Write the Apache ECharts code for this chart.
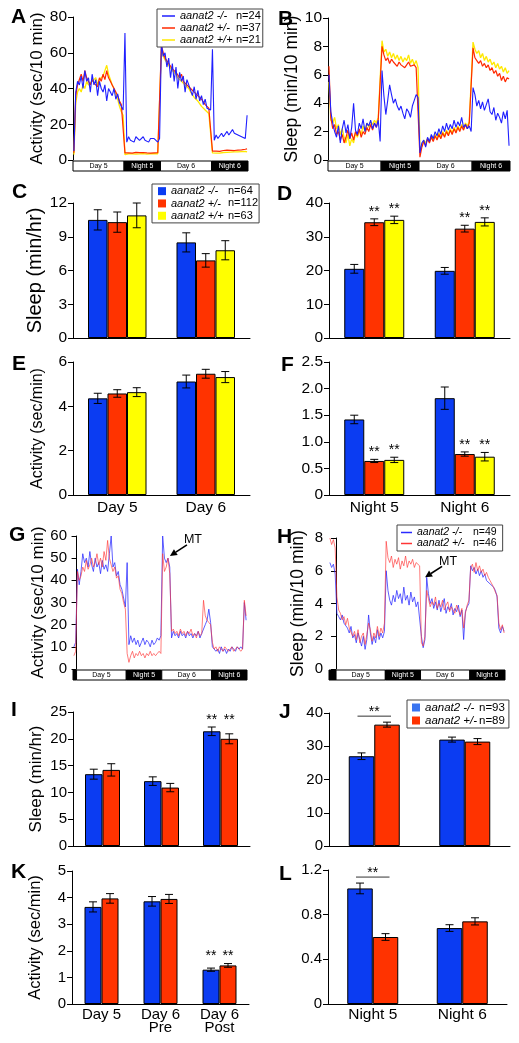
<!DOCTYPE html>
<html><head><meta charset="utf-8">
<script src="https://cdn.jsdelivr.net/npm/echarts@6/dist/echarts.min.js"></script>
<style>html,body{margin:0;padding:0;background:#fff}#c{width:519px;height:1043px}</style>
</head><body><div id="c"></div>
<script>
// ---------------- DATA ----------------
const BIN = 0.5; // hours per bin
const genoABC = ['aanat2 -/-', 'aanat2 +/-', 'aanat2 +/+'];
const nA = [24, 37, 21];
const nC = [64, 112, 63];
const nH = [49, 46];
const nJ = [93, 89];

// Panel A: activity (sec/10 min), Day 5 .. Night 6
const aKO = [5,38,44,42,47,40,50,44,46,38, 48,42,45,36,44,40,38,42,33,40, 38,36,40,34,37,32,30,28,
  71,10,13,11,12,10,13,12,11,12, 13,11,12,10,12,11,12,11,10,12,
  65,58,60,52,57,46,54,44,52,40, 49,44,47,38,45,42,43,36,41,34, 39,33,36,31,34,29,30,28,
  62,11,14,12,13,15,13,14,16,14, 15,17,15,16,14,15,13,14,12,25];
const aHet = [4,36,42,45,48,44,50,46,47,42, 45,43,44,41,46,44,48,45,50,46, 44,42,40,38,36,33,31,30,
  4,3.5,4,4.2,3.8,4,4.3,3.9,4.1,4, 4.2,3.8,4,4.1,3.9,4.2,4,3.8,4.1,4,
  64,60,57,58,54,55,51,52,49,50, 46,48,44,45,42,43,40,41,38,39, 36,35,34,33,31,30,29,28,
  5,4.5,5,5.2,4.8,5,5.3,5.1,5.5,5.2, 5.4,5.6,5.3,5.8,5.5,6,5.7,5.9,6,6.2];
const aWT = [3,32,38,40,38,42,40,44,42,41, 44,43,46,42,45,44,47,50,53,48, 45,42,40,37,34,30,27,25,
  3,3.2,3.5,3.3,3.4,3.6,3.3,3.5,3.4,3.2, 3.6,3.5,3.3,3.4,3.5,3.3,3.6,3.4,3.5,3.4,
  62,58,56,55,53,52,50,49,48,46, 45,44,43,42,41,40,38,37,35,34, 33,32,30,29,28,27,26,25,
  4,3.5,3.8,4,3.9,4.1,4.2,4,4.3,4.1, 4.4,4.2,4.5,4.3,4.6,4.4,4.7,4.5,4.8,4.6];

// Panel B: sleep (min/10 min)
const bKO = [6,3.4,2.6,2.0,1.6,2.4,1.2,2.2,2.8,1.9, 2.5,1.5,2.3,4.0,2.1,1.8,2.6,2.2,2.9,2.0, 2.6,2.4,2.8,2.2,2.6,2.3,2.8,1.3,
  6.3,4.5,3.2,4.2,5.3,4.6,4.0,4.3,3.8,3.5, 3.8,3.3,2.9,3.6,3.4,3.0,3.8,4.2,4.6,4.4,
  0.5,1.2,1.4,0.9,1.6,1.3,1.8,1.5,2.0,1.7, 2.2,1.8,2.4,2.0,2.6,2.1,2.5,2.2,2.8,2.3, 2.7,2.4,3.0,2.3,2.5,2.2,2.4,2.0,
  5.1,4.6,3.8,4.2,3.6,4.1,3.5,3.9,4.3,3.4, 3.2,3.7,2.8,3.3,3.0,2.6,3.4,2.9,3.5,1.0];
const bHet = [6.6,3.0,2.2,2.5,1.8,2.0,1.4,1.8,1.2,1.6, 2.1,1.5,1.9,1.4,2.0,1.7,2.2,1.6,2.0,1.8, 2.3,2.0,2.5,2.1,2.6,2.3,2.8,2.7,
  8.0,7.4,7.0,7.2,6.8,7.1,6.9,7.0,6.6,6.9, 6.7,6.8,6.5,6.7,6.9,6.6,6.5,6.7,6.5,6.4,
  0.2,0.9,1.3,1.0,1.5,1.2,1.6,1.3,1.7,1.4, 1.8,1.5,1.9,1.6,2.0,1.7,2.1,1.8,2.2,1.9, 2.3,2.0,2.4,2.1,2.5,2.2,2.6,2.7,
  7.9,7.2,7.0,6.8,7.0,6.6,6.8,6.5,6.7,6.3, 6.5,6.1,6.3,5.9,6.1,5.6,5.9,5.5,5.8,5.7];
const bWT = [5.5,2.8,2.6,3.0,2.2,2.5,1.8,2.2,1.6,1.2, 1.8,1.0,1.5,1.2,1.9,1.6,2.1,1.8,2.4,2.0, 2.6,2.3,2.7,2.5,2.8,2.6,3.0,2.9,
  8.4,7.6,7.8,7.3,7.6,7.2,7.5,7.1,7.4,7.0, 7.3,6.9,7.2,7.0,7.4,6.8,7.1,6.7,7.0,6.5,
  0.8,1.0,1.4,1.2,1.5,1.3,1.7,1.4,1.8,1.5, 1.9,1.6,2.0,1.7,2.1,1.8,2.2,1.9,2.3,2.0, 2.4,2.1,2.5,2.2,2.6,2.4,2.7,2.8,
  8.3,7.8,7.5,7.7,7.2,7.5,7.0,7.3,6.9,7.1, 6.7,6.9,6.5,6.8,6.4,6.6,6.2,6.5,6.1,6.3];

// Panel G: activity with melatonin (MT), starts 1 h before Day 5
const gKO = [10,12,
  45,38,44,52,48,50,46,53,47,44, 50,46,48,43,49,45,47,44,52,60, 46,48,42,44,38,36,32,28,
  48,11,15,12,14,11,13,10,12,14, 11,13,12,10,13,11,12,14,13,15,
  60,50,48,50,46,14,17,15,16,14, 17,15,16,14,17,15,16,14,16,15, 17,14,16,16,20,22,27,21,
  10,9,8,9,7,10,8,9,7,9, 8,10,9,8,10,9,10,9,30,22];
const gHet = [6,8,
  44,40,42,46,44,49,45,47,50,46, 48,52,47,50,46,53,49,58,50,47, 44,46,41,42,36,34,30,27,
  7,3,6,8,5,7,6,8,6,7, 5,7,6,8,6,7,6,7,8,7,
  52,44,46,50,43,17,18,16,17,15, 18,16,17,15,17,16,18,15,16,14, 17,15,16,31,24,22,21,20,
  12,9,10,8,10,9,8,10,9,8, 9,10,8,9,10,9,8,9,31,24];

// Panel H: sleep with MT, starts 2 h before Day 5
const hKO = [6.5,6.2,6.4,5.8,
  3.4,3.2,3.0,3.3,2.8,2.9,2.5,2.2,2.6,1.9, 2.1,1.6,2.2,1.8,1.4,2.0,1.2,1.8,3.3,2.2, 1.5,2.0,1.6,2.4,1.8,2.2,1.9,2.3,
  6.0,4.8,4.2,3.9,4.5,4.1,4.8,4.3,4.6,4.0, 5.0,4.2,4.5,3.9,4.7,4.1,4.4,3.8,4.1,4.0,
  2.0,1.3,1.8,5.6,4.6,4.0,4.3,3.7,4.1,3.6, 4.2,3.5,3.9,4.3,3.4,3.8,3.6,4.0,3.3,3.7, 3.5,3.9,3.2,3.6,1.8,3.5,3.8,4.0,
  6.3,6.0,6.2,5.8,6.1,5.7,6.0,5.6,5.8,5.4, 5.5,5.2,5.3,5.0,4.8,4.4,2.5,2.2,2.6,2.3];
const hHet = [8.0,7.6,7.9,7.4,
  4.4,3.6,3.4,3.0,3.2,2.7,3.1,2.5,2.6,2.0, 2.3,1.8,2.4,1.6,2.0,2.2,1.5,2.1,2.8,2.4, 1.7,2.2,1.9,2.6,2.0,2.5,2.2,2.8,
  7.8,6.8,6.5,6.9,6.2,6.7,6.4,6.8,6.1,6.6, 6.3,6.9,6.2,6.6,6.4,6.7,6.2,6.5,6.6,6.3,
  1.6,1.4,2.0,4.8,4.3,3.8,4.1,3.9,4.4,3.7, 4.0,3.8,4.2,3.6,3.9,4.1,3.5,3.8,3.7,3.4, 3.9,3.6,3.3,3.7,2.5,3.4,3.9,4.2,
  6.2,6.4,5.9,6.5,6.0,6.3,5.9,6.1,5.7,5.9, 5.6,5.4,5.2,5.0,4.7,4.5,2.8,2.4,2.7,2.2];

// light/dark strips: [label, startHour, endHour, isNight]
const segAB = [['Day 5',0,14,0],['Night 5',14,24,1],['Day 6',24,38,0],['Night 6',38,48,1]];
const segG = [['',-1,0,1],['Day 5',0,14,0],['Night 5',14,24,1],['Day 6',24,38,0],['Night 6',38,48,1]];
const segH = [['',-2,0,1],['Day 5',0,14,0],['Night 5',14,24,1],['Day 6',24,38,0],['Night 6',38,48,1]];
const mtG = [26.3, 51];   // melatonin arrow target (hour, value)
const mtH = [25.3, 5.6];

// Bar panels
const dayCats = ['Day 5', 'Day 6'];
const nightCats = ['Night 5', 'Night 6'];
const mtCats = ['Day 5', 'Day 6\nPre', 'Day 6\nPost'];

const cKO = [10.5, 8.5],  cKOe = [0.9, 0.85];
const cHet = [10.3, 6.9], cHete = [0.9, 0.6];
const cWT = [10.9, 7.8],  cWTe = [1.1, 0.85];

const dKO = [20.5, 19.9], dKOe = [1.3, 1.0];
const dHet = [34.3, 32.4], dHete = [1.0, 1.0], dHetSig = [1, 1];
const dWT = [35.0, 34.4], dWTe = [1.1, 1.2], dWTSig = [1, 1];

const eKO = [4.36, 5.12], eKOe = [0.23, 0.29];
const eHet = [4.58, 5.47], eHete = [0.17, 0.2];
const eWT = [4.64, 5.32], eWTe = [0.2, 0.25];

const fKO = [1.42, 1.82], fKOe = [0.08, 0.21];
const fHet = [0.64, 0.77], fHete = [0.03, 0.04], fHetSig = [1, 1];
const fWT = [0.66, 0.72], fWTe = [0.05, 0.08], fWTSig = [1, 1];

const iKO = [13.4, 12.1, 21.4], iKOe = [0.93, 0.8, 0.8], iKOSig = [0, 0, 1];
const iHet = [14.2, 10.9, 20.0], iHete = [1.15, 0.78, 0.93], iHetSig = [0, 0, 1];

const jKO = [27.0, 32.0], jKOe = [1.0, 0.75];
const jHet = [36.5, 31.4], jHete = [0.75, 0.9];
const jBracket = [1, 0];

const kKO = [3.65, 3.86, 1.29], kKOe = [0.19, 0.18, 0.06], kKOSig = [0, 0, 1];
const kHet = [3.97, 3.95, 1.45], kHete = [0.18, 0.17, 0.07], kHetSig = [0, 0, 1];

const lKO = [1.035, 0.68], lKOe = [0.048, 0.03];
const lHet = [0.60, 0.74], lHete = [0.03, 0.032];
const lBracket = [1, 0];

// ---------------- STYLE / BUILD ----------------
const FONT = '"Liberation Sans", Arial, Helvetica, sans-serif';
const BAR_BLUE = '#0b3cf2', BAR_RED = '#ff3300', BAR_YEL = '#ffff00';
const LN_BLUE = '#1f1fff', LN_RED = '#ff2a00', LN_YEL = '#ffe800';
const G_BLUE = '#2a2aff', G_RED = '#ff3535';

const grid = [], xAxis = [], yAxis = [], series = [], legend = [], graphic = [];
const intFmt = v => String(v);
const decFmt = v => v === 0 ? '0' : v.toFixed(1);

function yAx(gi, o) {
  return {
    type: 'value', gridIndex: gi, min: o.min, max: o.max, interval: o.int,
    name: o.name || '', nameLocation: 'middle', nameGap: o.nameGap || 0,
    nameTextStyle: {fontFamily: FONT, fontSize: o.nameSize || 17, color: '#000'},
    axisLine: {show: true, lineStyle: {color: '#000', width: 1}},
    axisTick: {show: true, length: 5, lineStyle: {color: '#000', width: 1}},
    axisLabel: {color: '#000', fontFamily: FONT, fontSize: o.tickSize || 15.5, margin: 6, formatter: o.fmt || intFmt},
    splitLine: {show: false}
  };
}
function addGrid(r) {
  grid.push({left: r[0], top: r[1], width: r[2], height: r[3], containLabel: false, outerBoundsMode: 'none'});
  return grid.length - 1;
}

function stripSeries(gi, segs) {
  return {
    type: 'custom', xAxisIndex: gi, yAxisIndex: gi, clip: false, silent: true, z: 3, animation: false,
    data: segs.map(s => [s[1], s[2], s[3]]),
    renderItem(params, api) {
      const s = segs[params.dataIndex];
      const p0 = api.coord([api.value(0), 0]);
      const p1 = api.coord([api.value(1), 0]);
      const y = p0[1] + 1, h = 10;
      return {type: 'group', children: [
        {type: 'rect', shape: {x: p0[0], y: y, width: p1[0] - p0[0], height: h},
          style: {fill: s[3] ? '#000' : '#fff', stroke: '#000', lineWidth: 1}},
        {type: 'text', style: {text: s[0], x: (p0[0] + p1[0]) / 2, y: y + h / 2 + 0.5, align: 'center',
          verticalAlign: 'middle', fontSize: 7, fontFamily: FONT, fill: s[3] ? '#fff' : '#000'}}
      ]};
    }
  };
}

function linePanel(r, x0, x1, ycfg, segs, lines) {
  const gi = addGrid(r);
  xAxis.push({type: 'value', gridIndex: gi, min: x0, max: x1, show: false});
  yAxis.push(yAx(gi, ycfg));
  lines.forEach(l => series.push({
    type: 'line', name: l.name, xAxisIndex: gi, yAxisIndex: gi, symbol: 'none', animation: false,
    data: l.vals.map((v, i) => [x0 + (i + 0.5) * BIN, v]),
    itemStyle: {color: l.color}, lineStyle: {color: l.color, width: l.width || 1, opacity: l.opacity == null ? 1 : l.opacity},
    z: 2
  }));
  series.push(stripSeries(gi, segs));
  return gi;
}

function barPanel(o) {
  const gi = addGrid(o.rect);
  xAxis.push({type: 'category', gridIndex: gi, data: o.cats,
    axisLine: {show: true, lineStyle: {color: '#000', width: 1}}, axisTick: {show: false},
    axisLabel: {show: !!o.showLabels, interval: 0, color: '#000', fontFamily: FONT, fontSize: o.labelSize || 15.5,
      lineHeight: o.labelLH || 15, margin: o.labelMargin || 5}});
  yAxis.push(yAx(gi, o.y));
  const n = o.bars.length;
  o.bars.forEach(b => series.push({
    type: 'bar', name: b.name, xAxisIndex: gi, yAxisIndex: gi, data: b.vals, barWidth: o.barW, barGap: '0%',
    itemStyle: {color: b.color, borderColor: '#000', borderWidth: 1}, animation: false, z: 2
  }));
  const items = [];
  o.cats.forEach((c, i) => o.bars.forEach((b, k) => items.push([i, k])));
  series.push({
    type: 'custom', xAxisIndex: gi, yAxisIndex: gi, clip: false, silent: true, z: 4, animation: false,
    data: items,
    renderItem(params, api) {
      const i = api.value(0), k = api.value(1);
      const b = o.bars[k];
      const base = api.coord([i, 0]);
      const cx = base[0] + (k - (n - 1) / 2) * o.barW;
      const v = b.vals[i], e = b.errs[i];
      const yT = api.coord([i, v + e])[1], yB = api.coord([i, v - e])[1];
      const cap = o.cap || 4;
      const st = {stroke: '#000', lineWidth: 1};
      const ch = [
        {type: 'line', shape: {x1: cx, y1: yT, x2: cx, y2: yB}, style: st},
        {type: 'line', shape: {x1: cx - cap, y1: yT, x2: cx + cap, y2: yT}, style: st},
        {type: 'line', shape: {x1: cx - cap, y1: yB, x2: cx + cap, y2: yB}, style: st}
      ];
      const groupTop = Math.max(...o.bars.map(bb => bb.vals[i] + bb.errs[i]));
      if (b.sig && b.sig[i]) {
        const topVal = o.alignStars ? groupTop : v + e;
        const ys = api.coord([i, topVal])[1] - (o.starGap || 10);
        ch.push({type: 'text', style: {text: '**', x: cx, y: ys + 3, align: 'center', verticalAlign: 'middle',
          fontSize: 14, fontFamily: FONT, fill: '#000'}});
      }
      if (k === 0 && o.bracket && o.bracket[i]) {
        const yl = api.coord([i, groupTop])[1] - 6;
        const x1 = cx - 4, x2 = cx + (n - 1) * o.barW + 4;
        ch.push({type: 'line', shape: {x1: x1, y1: yl, x2: x2, y2: yl}, style: {stroke: '#333', lineWidth: 1}});
        ch.push({type: 'text', style: {text: '**', x: (x1 + x2) / 2, y: yl - 7 + 3, align: 'center', verticalAlign: 'middle',
          fontSize: 14, fontFamily: FONT, fill: '#000'}});
      }
      return {type: 'group', children: ch};
    }
  });
  return gi;
}

function mtSeries(gi, pt) {
  return {
    type: 'custom', xAxisIndex: gi, yAxisIndex: gi, clip: false, silent: true, z: 6, animation: false,
    data: [pt],
    renderItem(params, api) {
      const p = api.coord([api.value(0), api.value(1)]);
      const tip = [p[0], p[1]], tail = [p[0] + 17, p[1] - 11];
      const ang = Math.atan2(tip[1] - tail[1], tip[0] - tail[0]);
      const L = 7, W = 3.5;
      const bx = tip[0] - L * Math.cos(ang), by = tip[1] - L * Math.sin(ang);
      const px = -Math.sin(ang) * W, py = Math.cos(ang) * W;
      return {type: 'group', children: [
        {type: 'line', shape: {x1: tail[0], y1: tail[1], x2: bx, y2: by}, style: {stroke: '#000', lineWidth: 1.6}},
        {type: 'polygon', shape: {points: [tip, [bx + px, by + py], [bx - px, by - py]]}, style: {fill: '#000'}},
        {type: 'text', style: {text: 'MT', x: p[0] + 23, y: p[1] - 16, align: 'center', verticalAlign: 'middle',
          fontSize: 12.5, fontFamily: FONT, fill: '#000'}}
      ]};
    }
  };
}

function mkLegend(o) {
  legend.push({
    show: true, orient: 'vertical', left: o.left, top: o.top, padding: o.pad, itemGap: 0,
    itemWidth: o.iw, itemHeight: o.ih, icon: 'rect', selectedMode: false,
    borderColor: '#444', borderWidth: 1, backgroundColor: '#fff', z: 10,
    data: o.names.map((nm, idx) => ({name: nm, itemStyle: {color: o.colors[idx], borderWidth: 0}})),
    formatter: nm => { const idx = o.names.indexOf(nm); return '{g|' + o.labels[idx] + '}{n|n=' + o.ns[idx] + '}'; },
    textStyle: {color: '#000', fontFamily: FONT, fontSize: o.fs, lineHeight: o.lh,
      rich: {g: {fontStyle: 'italic', fontFamily: FONT, fontSize: o.fs, width: o.gw, lineHeight: o.lh, color: '#000'},
             n: {fontFamily: FONT, fontSize: o.fs, lineHeight: o.lh, color: '#000'}}}
  });
}

// ---- A
const namesA = genoABC.map(g => 'A ' + g);
const giA = linePanel([73, 17, 175, 143], 0, 48,
  {min: 0, max: 80, int: 20, name: 'Activity (sec/10 min)', nameSize: 17, nameGap: 25},
  segAB, [
    {name: namesA[2], vals: aWT, color: LN_YEL, width: 1.3},
    {name: namesA[1], vals: aHet, color: LN_RED, width: 1.2},
    {name: namesA[0], vals: aKO, color: LN_BLUE, width: 1.1}
  ]);
mkLegend({left: 157, top: 9, pad: [1, 2, 1, 5], iw: 13, ih: 1.5, fs: 11, lh: 12, gw: 56,
  names: namesA, labels: genoABC, ns: nA, colors: [LN_BLUE, LN_RED, LN_YEL]});

// ---- B
linePanel([328, 18, 182, 142], 0, 48,
  {min: 0, max: 10, int: 2, name: 'Sleep (min/10 min)', nameSize: 17.5, nameGap: 21},
  segAB, [
    {name: 'B yel', vals: bWT, color: LN_YEL, width: 1.3},
    {name: 'B red', vals: bHet, color: LN_RED, width: 1.2},
    {name: 'B blue', vals: bKO, color: LN_BLUE, width: 1.1}
  ]);

// ---- C
const namesC = genoABC.map(g => 'C ' + g);
barPanel({rect: [73, 203, 177, 135], cats: dayCats, barW: 19.5,
  y: {min: 0, max: 12, int: 3, name: 'Sleep (min/hr)', nameSize: 20, nameGap: 26},
  bars: [
    {name: namesC[0], vals: cKO, errs: cKOe, color: BAR_BLUE},
    {name: namesC[1], vals: cHet, errs: cHete, color: BAR_RED},
    {name: namesC[2], vals: cWT, errs: cWTe, color: BAR_YEL}
  ]});
mkLegend({left: 152, top: 184, pad: [1, 1, 1, 6], iw: 8, ih: 8, fs: 11, lh: 12.3, gw: 57,
  names: namesC, labels: genoABC, ns: nC, colors: [BAR_BLUE, BAR_RED, BAR_YEL]});

// ---- D
barPanel({rect: [329, 203, 181, 135], cats: nightCats, barW: 20,
  y: {min: 0, max: 40, int: 10},
  bars: [
    {name: 'D ko', vals: dKO, errs: dKOe, color: BAR_BLUE},
    {name: 'D het', vals: dHet, errs: dHete, color: BAR_RED, sig: dHetSig},
    {name: 'D wt', vals: dWT, errs: dWTe, color: BAR_YEL, sig: dWTSig}
  ]});

// ---- E
barPanel({rect: [73, 362, 177, 133], cats: dayCats, barW: 19.5, showLabels: true,
  y: {min: 0, max: 6, int: 2, name: 'Activity (sec/min)', nameSize: 16, nameGap: 27},
  bars: [
    {name: 'E ko', vals: eKO, errs: eKOe, color: BAR_BLUE},
    {name: 'E het', vals: eHet, errs: eHete, color: BAR_RED},
    {name: 'E wt', vals: eWT, errs: eWTe, color: BAR_YEL}
  ]});

// ---- F
barPanel({rect: [329, 362, 181, 133], cats: nightCats, barW: 20, showLabels: true,
  y: {min: 0, max: 2.5, int: 0.5, fmt: decFmt},
  bars: [
    {name: 'F ko', vals: fKO, errs: fKOe, color: BAR_BLUE},
    {name: 'F het', vals: fHet, errs: fHete, color: BAR_RED, sig: fHetSig},
    {name: 'F wt', vals: fWT, errs: fWTe, color: BAR_YEL, sig: fWTSig}
  ]});

// ---- G
const giG = linePanel([73, 536, 174, 133], -1, 48,
  {min: 0, max: 60, int: 10, name: 'Activity (sec/10 min)', nameSize: 17, nameGap: 26, tickSize: 15},
  segG, [
    {name: 'G blue', vals: gKO, color: G_BLUE, opacity: 0.75},
    {name: 'G red', vals: gHet, color: G_RED, opacity: 0.65}
  ]);
series.push(mtSeries(giG, mtG));

// ---- H
const namesH = genoABC.slice(0, 2).map(g => 'H ' + g);
const giH = linePanel([329, 538, 176, 131], -2, 48,
  {min: 0, max: 8, int: 2, name: 'Sleep (min/10 min)', nameSize: 17.5, nameGap: 22, tickSize: 15},
  segH, [
    {name: namesH[0], vals: hKO, color: G_BLUE, opacity: 0.75},
    {name: namesH[1], vals: hHet, color: G_RED, opacity: 0.65}
  ]);
series.push(mtSeries(giH, mtH));
mkLegend({left: 397, top: 525, pad: [2, 6, 2, 4], iw: 11, ih: 1.5, fs: 10.5, lh: 10.5, gw: 56,
  names: namesH, labels: genoABC.slice(0, 2), ns: nH, colors: [G_BLUE, G_RED]});

// ---- I
barPanel({rect: [73, 712, 177, 134], cats: mtCats, barW: 17.5, alignStars: true,
  y: {min: 0, max: 25, int: 5, name: 'Sleep (min/hr)', nameSize: 17, nameGap: 28, tickSize: 15},
  bars: [
    {name: 'I ko', vals: iKO, errs: iKOe, color: BAR_BLUE, sig: iKOSig},
    {name: 'I het', vals: iHet, errs: iHete, color: BAR_RED, sig: iHetSig}
  ]});

// ---- J
const namesJ = genoABC.slice(0, 2).map(g => 'J ' + g);
barPanel({rect: [329, 713, 181, 133], cats: nightCats, barW: 25.5, bracket: jBracket,
  y: {min: 0, max: 40, int: 10, tickSize: 15},
  bars: [
    {name: namesJ[0], vals: jKO, errs: jKOe, color: BAR_BLUE},
    {name: namesJ[1], vals: jHet, errs: jHete, color: BAR_RED}
  ]});
mkLegend({left: 407, top: 700, pad: [1, 4, 1, 5], iw: 8, ih: 8, fs: 11.5, lh: 13, gw: 54,
  names: namesJ, labels: genoABC.slice(0, 2), ns: nJ, colors: ['#3a74f0', BAR_RED]});

// ---- K
barPanel({rect: [72, 871, 177, 133], cats: mtCats, barW: 17, alignStars: true, showLabels: true,
  labelSize: 15, labelLH: 13.5, labelMargin: 4,
  y: {min: 0, max: 5, int: 1, name: 'Activity (sec/min)', nameSize: 16.5, nameGap: 28, tickSize: 15},
  bars: [
    {name: 'K ko', vals: kKO, errs: kKOe, color: BAR_BLUE, sig: kKOSig},
    {name: 'K het', vals: kHet, errs: kHete, color: BAR_RED, sig: kHetSig}
  ]});

// ---- L
barPanel({rect: [328, 870, 179, 134], cats: nightCats, barW: 25.5, bracket: lBracket, showLabels: true,
  labelSize: 15.5, labelMargin: 3,
  y: {min: 0, max: 1.2, int: 0.4, fmt: decFmt, tickSize: 15},
  bars: [
    {name: 'L ko', vals: lKO, errs: lKOe, color: BAR_BLUE},
    {name: 'L het', vals: lHet, errs: lHete, color: BAR_RED}
  ]});

// panel letters
const letters = [['A', 11, 7], ['B', 278, 9], ['C', 12, 182], ['D', 277, 184], ['E', 12, 354], ['F', 281, 355],
  ['G', 9, 525], ['H', 277, 527], ['I', 11, 700], ['J', 279, 702], ['K', 11, 862], ['L', 279, 864]];
letters.forEach(l => graphic.push({type: 'text', left: l[1], top: l[2], z: 20,
  style: {text: l[0], fontSize: 21, fontWeight: 'bold', fontFamily: FONT, fill: '#000'}}));

const chart = echarts.init(document.getElementById('c'), null, {renderer: 'canvas'});
chart.setOption({backgroundColor: '#fff', animation: false, textStyle: {fontFamily: FONT},
  grid, xAxis, yAxis, series, legend, graphic, tooltip: {show: false}});
</script></body></html>
